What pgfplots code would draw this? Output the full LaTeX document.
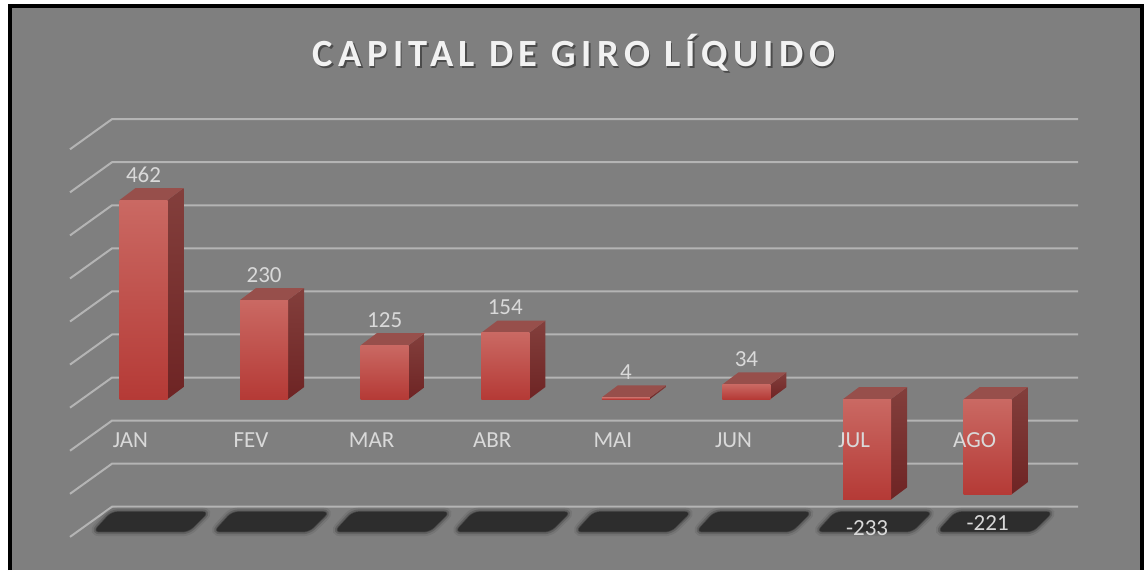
\documentclass[border=0pt]{standalone}
\usepackage{pgfplots}
\pgfplotsset{compat=1.18}
\usepackage{fontspec}
\setmainfont{Carlito}
\newfontfamily\titlefont[LetterSpace=14]{Carlito}
\definecolor{bggray}{RGB}{127,127,127}
\definecolor{gridc}{RGB}{180,180,180}
\definecolor{frontTop}{RGB}{202,105,99}
\definecolor{frontMid}{RGB}{198,75,70}
\definecolor{frontBot}{RGB}{181,58,54}
\definecolor{sideTop}{RGB}{131,63,60}
\definecolor{sideBot}{RGB}{110,36,36}
\definecolor{topFace}{RGB}{151,79,75}
\definecolor{lab}{RGB}{217,217,217}
\definecolor{titlec}{RGB}{242,242,242}
\definecolor{shadowc}{RGB}{45,45,45}

% one 3-D bar: #1 category index, #2 value
\newcommand\gbar[2]{%
  \pgfmathsetmacro\xr{#1+0.199}%
  \pgfmathsetmacro\xrr{#1+0.199+0.1327}%
  \pgfmathsetmacro\xl{#1-0.199}%
  \pgfmathsetmacro\xll{#1-0.199+0.1327}%
  \pgfmathsetmacro\vt{max(#2,0)}%
  \pgfmathsetmacro\vb{min(#2,0)}%
  \pgfmathsetmacro\vtt{\vt+27.86}%
  \pgfmathsetmacro\vbb{\vb+27.86}%
  \pgfmathsetmacro\ys{ifthenelse(#2<0,-36,18)}%
  \edef\temp{%
    \noexpand\addplot[draw=none, top color=sideTop, bottom color=sideBot] coordinates {(\xr,\vb) (\xrr,\vbb) (\xrr,\vtt) (\xr,\vt)} -- cycle;
    \noexpand\addplot[draw=none, fill=topFace] coordinates {(\xl,\vt) (\xr,\vt) (\xrr,\vtt) (\xll,\vtt)} -- cycle;
    \noexpand\addplot[ybar, bar width=0.398, bar shift=0pt, draw=none, top color=frontTop, middle color=frontMid, bottom color=frontBot, nodes near coords={#2}, every node near coord/.append style={anchor=base, yshift=\ys pt, text=lab, font=\noexpand\fontsize{23}{23}\noexpand\selectfont}] coordinates {(#1,#2)};
  }\temp
}
% blurred floor shadow under category #1
\newcommand\gshadow[1]{%
  \pgfmathsetmacro\sa{#1-0.265}%
  \pgfmathsetmacro\sb{#1+0.539}%
  \pgfmathsetmacro\sc{#1+0.373}%
  \pgfmathsetmacro\sd{#1-0.415}%
  \edef\temp{%
    \noexpand\addplot[draw=shadowc, fill=none, line width=9pt, draw opacity=0.12, rounded corners=6pt] coordinates {(\sa,-262) (\sb,-262) (\sc,-308) (\sd,-308)} -- cycle;
    \noexpand\addplot[draw=shadowc, fill=none, line width=5pt, draw opacity=0.25, rounded corners=6pt] coordinates {(\sa,-262) (\sb,-262) (\sc,-308) (\sd,-308)} -- cycle;
    \noexpand\addplot[draw=shadowc, fill=shadowc, line width=1.5pt, draw opacity=0.5, rounded corners=6pt] coordinates {(\sa,-262) (\sb,-262) (\sc,-308) (\sd,-308)} -- cycle;
  }\temp
}

\begin{document}
\begin{tikzpicture}
\begin{axis}[
  scale only axis, x=120.6pt, y=0.4307pt,
  xmin=-1.190, xmax=8.313, ymin=-397.0, ymax=926.4,
  clip=false, axis on top, no markers,
  axis line style={draw=none}, major tick length=0pt,
  ytick=\empty, xtick={0,1,2,3,4,5,6,7},
  xticklabels={JAN,FEV,MAR,ABR,MAI,JUN,JUL,AGO},
  xticklabel style={anchor=base, yshift=123pt, xshift=-13pt, font=\fontsize{23}{23}\selectfont, text=lab},
]
% background and frame
\fill[white] (rel axis cs:0,0) rectangle (rel axis cs:1,1);
\fill[bggray] (rel axis cs:0.00916,0) rectangle (rel axis cs:0.99651,0.98947);
\draw[black, line width=4pt, line join=miter] (rel axis cs:0.00916,0) -- (rel axis cs:0.00916,0.98947) -- (rel axis cs:0.99651,0.98947) -- (rel axis cs:0.99651,0);

% gridlines (back wall with side-wall diagonal)
\addplot[gridc, line width=2pt] coordinates {(-0.6095,-320) (-0.2612,-250) (7.749,-250)};
\addplot[gridc, line width=2pt] coordinates {(-0.6095,-220) (-0.2612,-150) (7.749,-150)};
\addplot[gridc, line width=2pt] coordinates {(-0.6095,-120) (-0.2612,-50) (7.749,-50)};
\addplot[gridc, line width=2pt] coordinates {(-0.6095,-20) (-0.2612,50) (7.749,50)};
\addplot[gridc, line width=2pt] coordinates {(-0.6095,80) (-0.2612,150) (7.749,150)};
\addplot[gridc, line width=2pt] coordinates {(-0.6095,180) (-0.2612,250) (7.749,250)};
\addplot[gridc, line width=2pt] coordinates {(-0.6095,280) (-0.2612,350) (7.749,350)};
\addplot[gridc, line width=2pt] coordinates {(-0.6095,380) (-0.2612,450) (7.749,450)};
\addplot[gridc, line width=2pt] coordinates {(-0.6095,480) (-0.2612,550) (7.749,550)};
\addplot[gridc, line width=2pt] coordinates {(-0.6095,580) (-0.2612,650) (7.749,650)};

% floor shadows
\gshadow{0}\gshadow{1}\gshadow{2}\gshadow{3}\gshadow{4}\gshadow{5}\gshadow{6}\gshadow{7}

% bars
\gbar{0}{462}
\gbar{1}{230}
\gbar{2}{125}
\gbar{3}{154}
\gbar{4}{4}
\gbar{5}{34}
\gbar{6}{-233}
\gbar{7}{-221}

% title
\node[anchor=base, text=black, opacity=0.4, font={\titlefont\bfseries\fontsize{38.5}{38.5}\selectfont}] at ([xshift=1.5pt,yshift=-2pt]rel axis cs:0.5009,0.8842) {CAPITAL DE GIRO LÍQUIDO};
\node[anchor=base, text=titlec, font={\titlefont\bfseries\fontsize{38.5}{38.5}\selectfont}] at (rel axis cs:0.5009,0.8842) {CAPITAL DE GIRO LÍQUIDO};
\end{axis}
\end{tikzpicture}
\end{document}
